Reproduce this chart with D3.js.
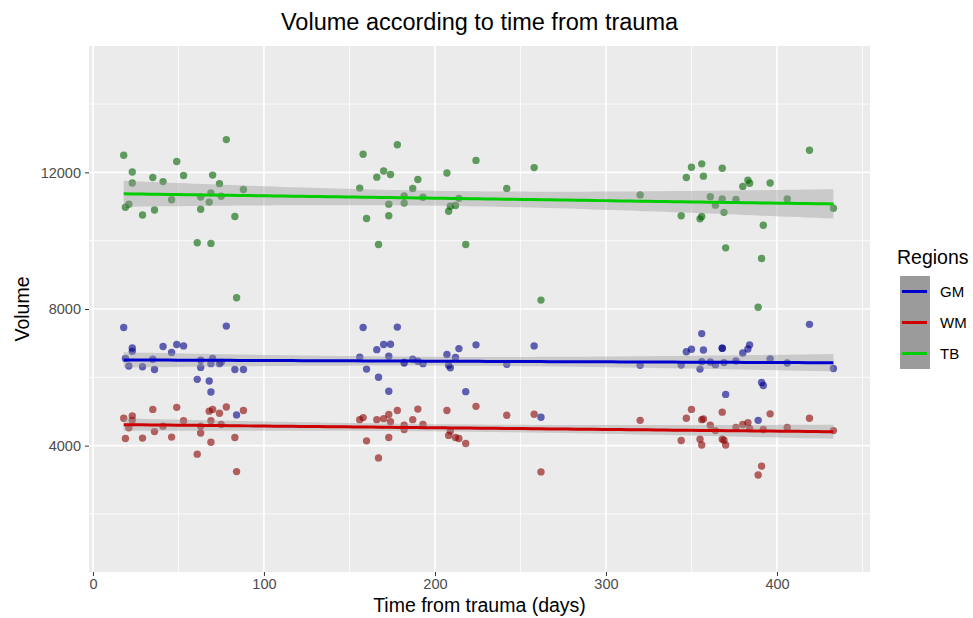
<!DOCTYPE html>
<html>
<head>
<meta charset="utf-8">
<script src="https://cdn.jsdelivr.net/npm/d3@7"></script>
<style>
  body { margin: 0; background: #fff; }
  text { font-family: "Liberation Sans", Arial, Helvetica, sans-serif; }
</style>
</head>
<body>
<script>
var w = 973;
var h = 618;

// time from trauma (days), one entry per subject
var days = [18, 19, 21, 23, 23, 29, 35, 36, 41, 46, 49, 53, 61, 63, 63, 68, 69, 69, 70, 74, 75, 78, 83, 84, 88,
            156, 158, 160, 166, 167, 170, 173, 173, 174, 178, 182, 182, 187, 190, 193, 207, 208, 209, 212, 214, 218, 224, 242, 258, 262,
            320, 344, 347, 350, 355, 356, 356, 357, 361, 364, 368, 368, 369, 370, 376, 380, 383, 384, 389, 391, 392, 396, 406, 419, 433];
// grey matter volume
var gm = [7460, 6550, 6330, 6860, 6760, 6310, 6530, 6230, 6900, 6730, 6960, 6920, 5940, 6500, 6290, 5890, 6400, 5570, 6550, 6400, 6440, 7500, 6230, 4900, 6230,
          6590, 7460, 6240, 6810, 6000, 6960, 6620, 5590, 6970, 7470, 6420, 6440, 6530, 6470, 6400, 6670, 6350, 6280, 6580, 6840, 5580, 6950, 6380, 6920, 4830,
          6350, 6360, 6750, 6820, 6240, 6460, 7280, 6800, 6450, 6370, 6850, 6850, 6430, 5500, 6480, 6710, 6830, 6950, 4740, 5850, 5760, 6540, 6420, 7550, 6260];
// white matter volume
var wm = [4800, 4210, 4520, 4870, 4740, 4220, 5060, 4410, 4570, 4250, 5120, 4730, 3750, 4570, 4370, 5010, 4730, 4100, 5060, 4950, 4620, 5130, 4240, 3240, 5030,
          4760, 4820, 4140, 4760, 3640, 4790, 4910, 4240, 4700, 5030, 4600, 4470, 4760, 5070, 4620, 5030, 4300, 4430, 4240, 4210, 4060, 5150, 4890, 4920, 3230,
          4740, 4150, 4800, 5060, 4190, 4020, 4760, 4780, 4600, 4440, 4980, 4190, 4160, 4020, 4530, 4620, 4670, 4500, 3140, 3400, 4470, 4930, 4530, 4800, 4440];
// total brain volume
var tb = [12500, 10980, 11070, 12010, 11690, 10750, 11850, 10900, 11730, 11200, 12320, 11910, 9940, 11280, 10920, 11130, 11400, 9920, 11920, 11670, 11300, 12960, 10710, 8330, 11500,
          11540, 12530, 10650, 11860, 9890, 12040, 11070, 10730, 11940, 12810, 11310, 11100, 11530, 11790, 11270, 11980, 10860, 11010, 11030, 11240, 9890, 12350, 11530, 12140, 8260,
          11340, 10730, 11850, 12150, 10640, 10710, 12250, 11890, 11290, 11040, 12120, 11220, 10830, 9790, 11210, 11590, 11770, 11680, 8050, 9480, 10450, 11690, 11220, 12650, 10950];

var regions = ["GM", "WM", "TB"];
var values = {GM: gm, WM: wm, TB: tb};
var lineColors = {GM: "#0000CD", WM: "#CD0000", TB: "#00CD00"};
var pointColors = {GM: "#00008B", WM: "#8B0000", TB: "#006400"};

var xTicks = [0, 100, 200, 300, 400];
var xMinor = [50, 150, 250, 350, 450];
var yTicks = [4000, 8000, 12000];
var yMinor = [2000, 6000, 10000, 14000];

var panel = {left: 89, right: 870, top: 46, bottom: 572};

var xScale = d3.scaleLinear()
    .domain([-2.3, 454.4])
    .range([panel.left, panel.right]);
var yScale = d3.scaleLinear()
    .domain([300, 15700])
    .range([panel.bottom, panel.top]);

var svg = d3.select("body")
    .append("svg")
    .attr("width", w)
    .attr("height", h);

// panel background + grid
svg.append("rect")
    .attr("x", panel.left).attr("y", panel.top)
    .attr("width", panel.right - panel.left)
    .attr("height", panel.bottom - panel.top)
    .style("fill", "#EBEBEB");

svg.selectAll(".gx-minor").data(xMinor).enter().append("line")
    .attr("x1", function(d) { return xScale(d); }).attr("x2", function(d) { return xScale(d); })
    .attr("y1", panel.top).attr("y2", panel.bottom)
    .style("stroke", "#fff").style("stroke-width", 0.8);
svg.selectAll(".gy-minor").data(yMinor).enter().append("line")
    .attr("y1", function(d) { return yScale(d); }).attr("y2", function(d) { return yScale(d); })
    .attr("x1", panel.left).attr("x2", panel.right)
    .style("stroke", "#fff").style("stroke-width", 0.8);
svg.selectAll(".gx").data(xTicks).enter().append("line")
    .attr("x1", function(d) { return xScale(d); }).attr("x2", function(d) { return xScale(d); })
    .attr("y1", panel.top).attr("y2", panel.bottom)
    .style("stroke", "#fff").style("stroke-width", 1.6);
svg.selectAll(".gy").data(yTicks).enter().append("line")
    .attr("y1", function(d) { return yScale(d); }).attr("y2", function(d) { return yScale(d); })
    .attr("x1", panel.left).attr("x2", panel.right)
    .style("stroke", "#fff").style("stroke-width", 1.6);

// axes
var xAxis = svg.append("g")
    .attr("transform", "translate(0," + panel.bottom + ")")
    .call(d3.axisBottom(xScale).tickValues(xTicks).tickSize(4).tickPadding(3));
var yAxis = svg.append("g")
    .attr("transform", "translate(" + panel.left + ",0)")
    .call(d3.axisLeft(yScale).tickValues(yTicks).tickSize(4).tickPadding(4).tickFormat(d3.format("d")));
[xAxis, yAxis].forEach(function(a) {
    a.select(".domain").remove();
    a.selectAll(".tick line").style("stroke", "#333").style("stroke-width", 1);
    a.selectAll(".tick text").style("fill", "#4D4D4D").style("font-size", "14.5px")
        .style("font-family", "'Liberation Sans', Arial, sans-serif");
});

// points
regions.forEach(function(r) {
    svg.append("g").selectAll("circle")
        .data(days)
        .enter()
        .append("circle")
        .attr("cx", function(d) { return xScale(d); })
        .attr("cy", function(d, i) { return yScale(values[r][i]); })
        .attr("r", 3.7)
        .style("fill", pointColors[r])
        .style("fill-opacity", 0.6);
});

// linear fits with 95% confidence band
function fit(xs, ys) {
    var n = xs.length;
    var mx = d3.mean(xs), my = d3.mean(ys);
    var sxx = 0, sxy = 0;
    for (var i = 0; i < n; i++) {
        sxx += (xs[i] - mx) * (xs[i] - mx);
        sxy += (xs[i] - mx) * (ys[i] - my);
    }
    var b = sxy / sxx, a = my - b * mx;
    var sse = 0;
    for (var j = 0; j < n; j++) sse += Math.pow(ys[j] - a - b * xs[j], 2);
    var s = Math.sqrt(sse / (n - 2));
    var t = 1.993;
    var x0 = d3.min(xs), x1 = d3.max(xs);
    var pts = d3.range(0, 81).map(function(k) {
        var x = x0 + (x1 - x0) * k / 80;
        var yhat = a + b * x;
        var se = s * Math.sqrt(1 / n + (x - mx) * (x - mx) / sxx);
        return {x: x, y: yhat, lo: yhat - t * se, hi: yhat + t * se};
    });
    return pts;
}

var area = d3.area()
    .x(function(d) { return xScale(d.x); })
    .y0(function(d) { return yScale(d.lo); })
    .y1(function(d) { return yScale(d.hi); });
var line = d3.line()
    .x(function(d) { return xScale(d.x); })
    .y(function(d) { return yScale(d.y); });

regions.forEach(function(r) {
    var pts = fit(days, values[r]);
    svg.append("path").datum(pts)
        .attr("d", area)
        .style("fill", "#999999")
        .style("fill-opacity", 0.4);
    svg.append("path").datum(pts)
        .attr("d", line)
        .style("fill", "none")
        .style("stroke", lineColors[r])
        .style("stroke-width", 3);
});

// titles
svg.append("text")
    .attr("x", (panel.left + panel.right) / 2)
    .attr("y", 30)
    .attr("text-anchor", "middle")
    .style("font-size", "23.5px")
    .style("fill", "#000")
    .text("Volume according to time from trauma");
svg.append("text")
    .attr("x", (panel.left + panel.right) / 2)
    .attr("y", 612)
    .attr("text-anchor", "middle")
    .style("font-size", "19.5px")
    .style("fill", "#000")
    .text("Time from trauma (days)");
svg.append("text")
    .attr("transform", "translate(29," + (panel.top + panel.bottom) / 2 + ") rotate(-90)")
    .attr("text-anchor", "middle")
    .style("font-size", "19.5px")
    .style("fill", "#000")
    .text("Volume");

// legend
var legend = svg.append("g").attr("transform", "translate(899,0)");
legend.append("text")
    .attr("x", -2).attr("y", 264)
    .style("font-size", "19.5px")
    .style("fill", "#000")
    .text("Regions");
legend.append("rect")
    .attr("x", 1).attr("y", 276)
    .attr("width", 30).attr("height", 93)
    .style("fill", "#9B9B9B");
legend.selectAll(".key").data(regions).enter().append("line")
    .attr("x1", 3).attr("x2", 28)
    .attr("y1", function(d, i) { return 291.5 + i * 31; })
    .attr("y2", function(d, i) { return 291.5 + i * 31; })
    .style("stroke", function(d) { return lineColors[d]; })
    .style("stroke-width", 3);
legend.selectAll(".lab").data(regions).enter().append("text")
    .attr("x", 41)
    .attr("y", function(d, i) { return 291.5 + i * 31; })
    .attr("dy", "0.35em")
    .style("font-size", "15px")
    .style("fill", "#000")
    .text(function(d) { return d; });
</script>
</body>
</html>
